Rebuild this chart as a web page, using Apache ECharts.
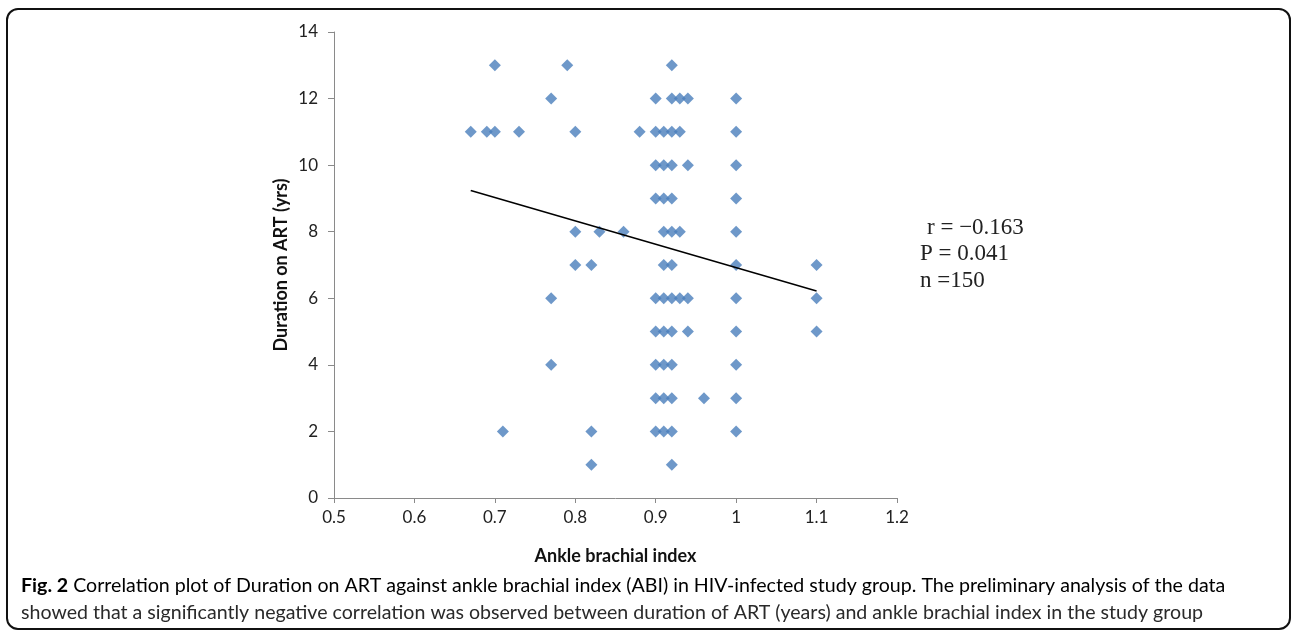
<!DOCTYPE html>
<html>
<head>
<meta charset="utf-8">
<script src="https://cdn.jsdelivr.net/npm/echarts@6/dist/echarts.min.js"></script>
<style>
html,body{margin:0;padding:0;background:#fff;}
#c{width:1292px;height:630px;}
</style>
</head>
<body>
<div id="c"></div>
<script>
// Data (ABI on x, duration on ART in years on y)
const abi = [
  0.70, 0.79, 0.92,
  0.77, 0.90, 0.92, 0.93, 0.94, 1.00,
  0.67, 0.69, 0.70, 0.73, 0.80, 0.88, 0.90, 0.91, 0.92, 0.93, 1.00,
  0.90, 0.91, 0.92, 0.94, 1.00,
  0.90, 0.91, 0.92, 1.00,
  0.80, 0.83, 0.86, 0.91, 0.92, 0.93, 1.00,
  0.80, 0.82, 0.91, 0.92, 1.00, 1.10,
  0.77, 0.90, 0.91, 0.92, 0.93, 0.94, 1.00, 1.10,
  0.90, 0.91, 0.92, 0.94, 1.00, 1.10,
  0.77, 0.90, 0.91, 0.92, 1.00,
  0.90, 0.91, 0.92, 0.96, 1.00,
  0.71, 0.82, 0.90, 0.91, 0.92, 1.00,
  0.82, 0.92
];
const duration = [
  13, 13, 13,
  12, 12, 12, 12, 12, 12,
  11, 11, 11, 11, 11, 11, 11, 11, 11, 11, 11,
  10, 10, 10, 10, 10,
  9, 9, 9, 9,
  8, 8, 8, 8, 8, 8, 8,
  7, 7, 7, 7, 7, 7,
  6, 6, 6, 6, 6, 6, 6, 6,
  5, 5, 5, 5, 5, 5,
  4, 4, 4, 4, 4,
  3, 3, 3, 3, 3,
  2, 2, 2, 2, 2, 2,
  1, 1
];
// Linear trend line endpoints
const trendX = [0.67, 1.10];
const trendY = [9.24, 6.22];
// Axis ticks
const xTicks = ['0.5','0.6','0.7','0.8','0.9','1','1.1','1.2'];
const yTicks = ['0','2','4','6','8','10','12','14'];
const statsText = ['r = \u22120.163', 'P = 0.041', 'n =150'];
const captionBold = 'Fig. 2';
const captionLine1 = ' Correlation plot of Duration on ART against ankle brachial index (ABI) in HIV-infected study group. The preliminary analysis of the data';
const captionLine2 = 'showed that a significantly negative correlation was observed between duration of ART (years) and ankle brachial index in the study group';

const pts = abi.map((x, i) => [x, duration[i]]);
const trend = trendX.map((x, i) => [x, trendY[i]]);

const chart = echarts.init(document.getElementById('c'), null, {renderer: 'canvas'});
const axisFont = 'Lato, "Liberation Sans", sans-serif';
const serif = '"Liberation Serif", serif';
chart.setOption({
  animation: false,
  backgroundColor: '#fff',
  grid: {left: 334, right: 395, top: 32, bottom: 132, containLabel: false},
  xAxis: {
    type: 'value', min: 0.5, max: 1.2, interval: 0.1,
    name: 'Ankle brachial index', nameLocation: 'middle', nameGap: 49,
    nameTextStyle: {fontFamily: axisFont, fontWeight: 'bold', fontSize: 18, color: '#111'},
    axisLine: {show: true, lineStyle: {color: '#8a8a8a', width: 1}},
    axisTick: {show: true, length: 5, lineStyle: {color: '#8a8a8a'}},
    axisLabel: {fontFamily: axisFont, fontSize: 17, color: '#222', margin: 11,
      formatter: v => xTicks[Math.round((v - 0.5) * 10)]},
    splitLine: {show: false}
  },
  yAxis: {
    type: 'value', min: 0, max: 14, interval: 2,
    name: 'Duration on ART (yrs)', nameLocation: 'middle', nameGap: 44,
    nameTextStyle: {fontFamily: axisFont, fontWeight: 'bold', fontSize: 18, color: '#111'},
    axisLine: {show: true, lineStyle: {color: '#8a8a8a', width: 1}},
    axisTick: {show: true, length: 6, lineStyle: {color: '#8a8a8a'}},
    axisLabel: {fontFamily: axisFont, fontSize: 17, color: '#222', margin: 16,
      formatter: v => yTicks[Math.round(v / 2)]},
    splitLine: {show: false}
  },
  series: [
    {
      type: 'scatter', data: pts, symbol: 'diamond', symbolSize: 12,
      itemStyle: {color: '#4A7EBB'}, z: 2
    },
    {
      type: 'line', data: trend, symbol: 'none', showSymbol: false,
      lineStyle: {color: '#000', width: 1.5}, z: 3
    }
  ],
  graphic: [
    {type: 'rect', shape: {x: 7, y: 9, width: 1283, height: 620, r: 11},
      style: {fill: null, stroke: '#111', lineWidth: 2}, silent: true},
    {type: 'text', x: 927, y: 228, style: {text: statsText[0], font: '23px ' + serif, fill: '#222', textVerticalAlign: 'middle'}},
    {type: 'text', x: 920, y: 254, style: {text: statsText[1], font: '23px ' + serif, fill: '#222', textVerticalAlign: 'middle'}},
    {type: 'text', x: 920, y: 281, style: {text: statsText[2], font: '23px ' + serif, fill: '#222', textVerticalAlign: 'middle'}},
    {type: 'text', x: 21, y: 596, style: {
      text: '{b|' + captionBold + '}{n|' + captionLine1 + '}',
      textVerticalAlign: 'bottom',
      rich: {
        b: {fontFamily: axisFont, fontWeight: 'bold', fontSize: 19.6, color: '#111'},
        n: {fontFamily: axisFont, fontSize: 19.6, color: '#2a2a2a'}
      }
    }},
    {type: 'text', x: 21, y: 623, style: {
      text: captionLine2, font: '19.6px Lato, sans-serif', fill: '#2a2a2a', textVerticalAlign: 'bottom'
    }}
  ]
});
</script>
</body>
</html>
